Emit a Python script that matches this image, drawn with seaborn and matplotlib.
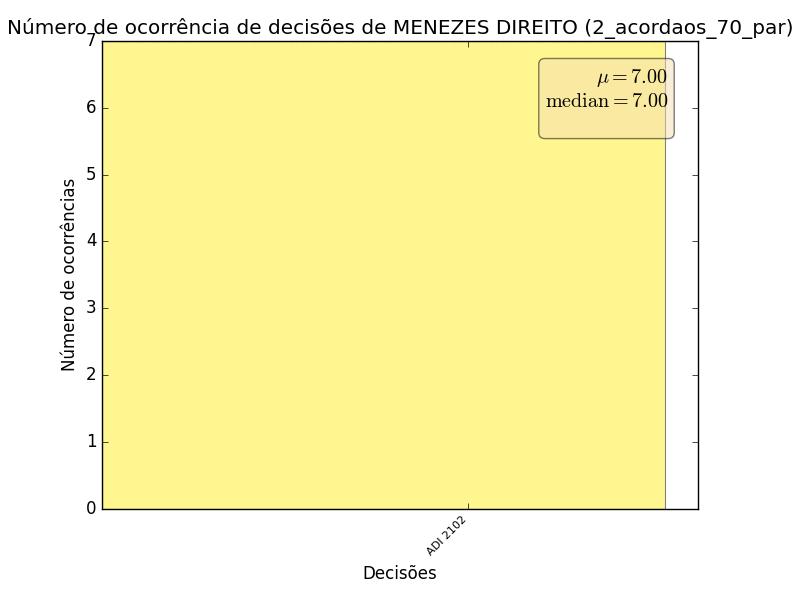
import matplotlib
matplotlib.use("Agg")
import matplotlib.pyplot as plt
import seaborn as sns
import numpy as np
import pandas as pd

decisions = ["ADI 2102"]
counts = [7]
mean_val = 7.00
median_val = 7.00

sns.set_style("ticks")
plt.style.use("classic")
plt.rcParams["font.family"] = ["DejaVu Sans"]
plt.rcParams["mathtext.fontset"] = "cm"

fig = plt.figure(figsize=(8, 6), dpi=100, facecolor="white")
ax = fig.add_axes([0.1275, 0.152, 0.745, 0.78])
ax.set_facecolor("white")

df = pd.DataFrame({"pos": np.repeat(np.arange(len(decisions)), counts)})
sns.histplot(data=df, x="pos", bins=[0, 1], ax=ax, color="#fff68f",
             edgecolor="gray", linewidth=0.8, alpha=1.0, stat="count")

ax.set_xlim(0, 1.058)
ax.set_ylim(0, 7)
ax.set_xticks([0.65])
ax.set_xticklabels(decisions, rotation=45, ha="right", fontsize=8)
ax.set_yticks(range(0, 8))
ax.tick_params(axis="y", labelsize=12)
ax.tick_params(direction="in", top=True, right=True)

ax.axhline(mean_val, color="red", linestyle="--", linewidth=1.5)
ax.axhline(median_val, color="green", linestyle=":", linewidth=1.5)

ax.text(0.95, 0.945, r"$\mu=%.2f$" % mean_val + "\n" + r"$\mathrm{median}=%.2f$" % median_val + "\n ",
        transform=ax.transAxes, fontsize=14.5, ha="right", va="top", multialignment="right",
        bbox=dict(boxstyle="round", facecolor="wheat", alpha=0.5))

ax.set_title("Número de ocorrência de decisões de MENEZES DIREITO (2_acordaos_70_par)", fontsize=14.4)
ax.set_xlabel("Decisões", fontsize=12)
ax.set_ylabel("Número de ocorrências", fontsize=12)

fig.savefig("out.png", dpi=100, facecolor="white")
